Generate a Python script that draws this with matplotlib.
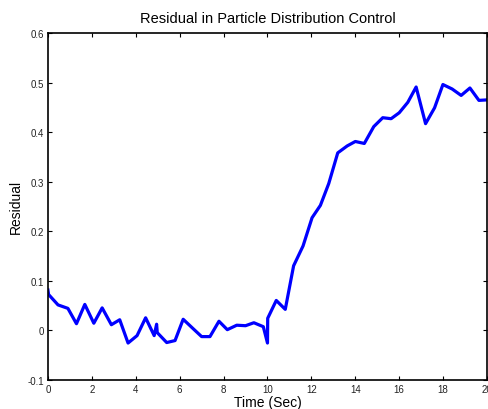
import matplotlib
matplotlib.use("Agg")
import matplotlib.pyplot as plt

time_s = [0.0, 0.03, 0.46, 0.91, 1.3, 1.68, 2.09, 2.47, 2.89, 3.27, 3.65, 4.06, 4.45,
          4.84, 4.95, 4.98, 5.41, 5.79, 6.16, 6.59, 7.0, 7.38, 7.79, 8.17, 8.6, 9.0,
          9.38, 9.81, 10.0, 10.01, 10.4, 10.81, 11.19, 11.62, 12.03, 12.41, 12.79,
          13.2, 13.63, 14.0, 14.41, 14.84, 15.25, 15.63, 16.0, 16.39, 16.77, 17.2,
          17.61, 17.99, 18.41, 18.82, 19.22, 19.63, 20.0]
residual = [0.081, 0.072, 0.051, 0.044, 0.013, 0.052, 0.014, 0.045, 0.011, 0.021,
            -0.026, -0.011, 0.025, -0.011, 0.012, -0.005, -0.025, -0.021, 0.022,
            0.004, -0.013, -0.013, 0.018, 0.001, 0.010, 0.009, 0.015, 0.007, -0.026,
            0.024, 0.060, 0.042, 0.130, 0.170, 0.227, 0.252, 0.296, 0.358, 0.372,
            0.381, 0.377, 0.411, 0.429, 0.427, 0.439, 0.460, 0.491, 0.417, 0.449,
            0.496, 0.487, 0.474, 0.489, 0.464, 0.465]

xticks = [0, 2, 4, 6, 8, 10, 12, 14, 16, 18, 20]
yticks = [-0.1, 0, 0.1, 0.2, 0.3, 0.4, 0.5, 0.6]
ytick_labels = ["-0.1", "0", "0.1", "0.2", "0.3", "0.4", "0.5", "0.6"]

plt.rcParams['font.family'] = ['Liberation Sans', 'DejaVu Sans']

fig = plt.figure(figsize=(4.89, 4.10), dpi=100)
ax = fig.add_axes([0.098, 0.0715, 0.898, 0.8455])
ax.plot(time_s, residual, color=(0, 0, 1), linewidth=2.3)
ax.set_xlim(0, 20)
ax.set_ylim(-0.1, 0.6)
ax.set_xticks(xticks)
ax.set_xticklabels([str(t) for t in xticks])
ax.set_yticks(yticks)
ax.set_yticklabels(ytick_labels)
ax.tick_params(direction='in', length=3, width=0.8, labelsize=7, top=True, right=True,
               pad=3, labelcolor='#222222')
for s in ax.spines.values():
    s.set_linewidth(1.2)
ax.set_title("Residual in Particle Distribution Control", fontsize=10.5, pad=8)
ax.set_xlabel("Time (Sec)", fontsize=10, labelpad=1)
ax.set_ylabel("Residual", fontsize=10, labelpad=3)
fig.savefig("out.png", dpi=100)
